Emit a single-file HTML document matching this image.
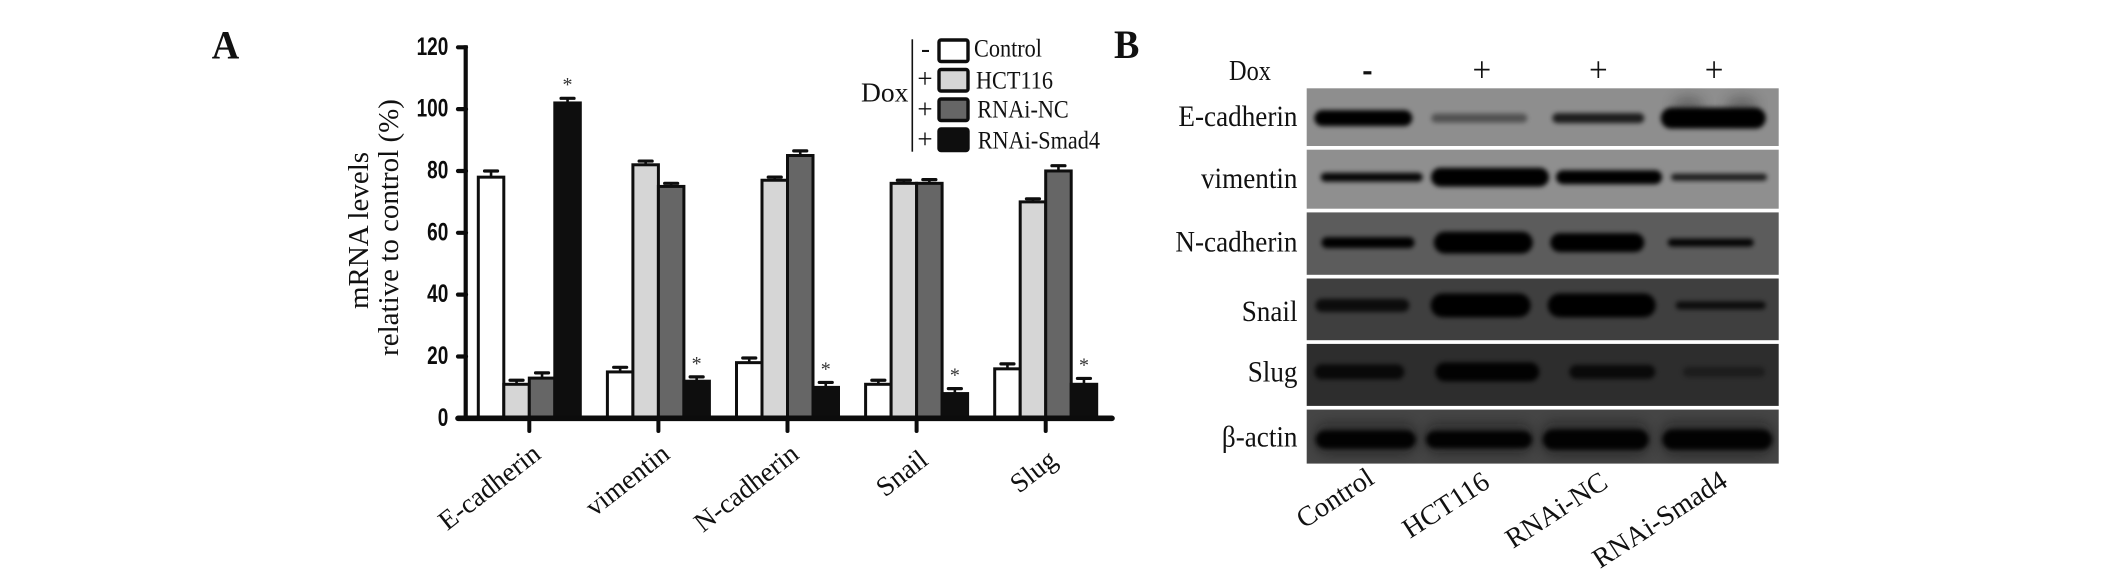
<!DOCTYPE html>
<html lang="en">
<head>
<meta charset="utf-8">
<title>mRNA levels and western blot</title>
<style>
html,body{margin:0;padding:0;background:#fff;width:2126px;height:581px;overflow:hidden}
svg{display:block;filter:blur(.35px)}
text{font-family:"Liberation Serif",serif;fill:#111}
.tick-text{font-family:"Liberation Sans",sans-serif;font-weight:700;fill:#0c0c0c}
</style>
</head>
<body>
<svg id="figure" xmlns="http://www.w3.org/2000/svg" width="2126" height="581" viewBox="0 0 2126 581">
  <defs>
    <filter id="band-blur" x="-10%" y="-60%" width="120%" height="220%"><feGaussianBlur stdDeviation="2.3"/></filter>
    <filter id="halo-blur" x="-30%" y="-120%" width="160%" height="340%"><feGaussianBlur stdDeviation="6"/></filter>
  </defs>
  <rect width="2126" height="581" fill="#fff"/>

  <text transform="translate(211.7,58.3) scale(.95,1)" font-size="40" font-weight="700">A</text>
  <text transform="translate(1114,58) scale(.95,1)" font-size="40" font-weight="700">B</text>

  <g font-size="29" text-anchor="middle">
    <text transform="translate(368,230.5) rotate(-90)">mRNA levels</text>
    <text transform="translate(398,227.5) rotate(-90)">relative to control (%)</text>
  </g>

  <g id="bar-layer"></g>
  <g id="axis-layer"></g>

  <g>
    <text x="861" y="101.7" font-size="27.5">Dox</text>
    <line x1="912.3" y1="39.3" x2="912.3" y2="151.7" stroke="#111" stroke-width="1.6"/>
    <text x="921" y="57.5" font-size="27">-</text>
    <text x="917.4" y="87.5" font-size="27">+</text>
    <text x="917.4" y="117.8" font-size="27">+</text>
    <text x="917.4" y="147.8" font-size="27">+</text>
    <rect x="939" y="40" width="29" height="21.5" rx="2" fill="#fff" stroke="#0e0e0e" stroke-width="3.4"/>
    <rect x="939" y="69.5" width="29" height="21.5" rx="2" fill="#d6d6d6" stroke="#0e0e0e" stroke-width="3.4"/>
    <rect x="939" y="99" width="29" height="21.5" rx="2" fill="#666" stroke="#0e0e0e" stroke-width="3.4"/>
    <rect x="939" y="129" width="29" height="21.5" rx="2" fill="#0e0e0e" stroke="#0e0e0e" stroke-width="3.4"/>
    <text transform="translate(974,56.7) scale(.89,1)" font-size="25">Control</text>
    <text transform="translate(976,88.3) scale(.89,1)" font-size="25">HCT116</text>
    <text transform="translate(977.3,117.3) scale(.89,1)" font-size="25">RNAi-NC</text>
    <text transform="translate(977.7,148.3) scale(.89,1)" font-size="25">RNAi-Smad4</text>
  </g>

  <g>
    <text transform="translate(1229,80) scale(.87,1)" font-size="28">Dox</text>
    <rect x="1363.4" y="71.2" width="8" height="3.2" fill="#111"/>
    <text transform="translate(1472.5,81.3) scale(.92,1)" font-size="36">+</text>
    <text transform="translate(1589,81.3) scale(.92,1)" font-size="36">+</text>
    <text transform="translate(1704.8,81.3) scale(.92,1)" font-size="36">+</text>
  </g>

  <g id="blot-layer"></g>
  <g id="blot-label-layer"></g>
  <g id="lane-label-layer"></g>
</svg>

<script>
// ---- Panel A data ----
const categories = ['E-cadherin', 'vimentin', 'N-cadherin', 'Snail', 'Slug'];
const seriesNames = ['control', 'hct116', 'rnai-nc', 'rnai-smad4'];
const controlValues = [78, 15, 18, 11, 16];
const hct116Values = [11, 82, 77, 76, 70];
const rnaiNcValues = [13, 75, 85, 76, 80];
const rnaiSmad4Values = [102, 12, 10, 8, 11];
const controlErrors = [2, 1.5, 1.5, 1.3, 1.6];
const hct116Errors = [1.3, 1.2, 1, 1, 1];
const rnaiNcErrors = [1.7, 1, 1.5, 1.2, 1.7];
const rnaiSmad4Errors = [1.5, 1.4, 1.6, 1.6, 1.9];
const yTickLabels = [0, 20, 40, 60, 80, 100, 120];

// ---- Panel B data (row x lane) ----
const blotRows = ['E-cadherin', 'vimentin', 'N-cadherin', 'Snail', 'Slug', 'β-actin'];
const blotLanes = ['Control', 'HCT116', 'RNAi-NC', 'RNAi-Smad4'];
const bandDensity = [
  [1, 0.42, 0.8, 1],
  [0.95, 1, 1, 0.8],
  [1, 1, 1, 0.95],
  [0.8, 1, 1, 0.8],
  [0.8, 0.95, 0.78, 0.36],
  [0.95, 0.95, 0.95, 0.95]
];
const bandThickness = [
  [16, 9, 10, 21],
  [9, 19, 14, 7],
  [11, 22, 19, 8],
  [13, 24, 24, 8],
  [15, 19, 14, 10],
  [18, 17, 20, 20]
];
const bandLength = [
  [98, 96, 92, 105],
  [102, 118, 106, 96],
  [93, 99, 94, 86],
  [94, 100, 108, 90],
  [90, 104, 86, 82],
  [100, 106, 106, 110]
];
const bandShift = [
  [-0.7, -2.7, -1.7, -4.7],
  [7.7, 8, 9, 1],
  [4, 1.3, -2.7, -7.3],
  [-1.7, -1.3, 1.7, 2.7],
  [-4.7, 5.3, 12.3, 6],
  [1.7, -3, -4.3, -0.7]
];
const rowShift = [1, -2, -1, -4, -3, 3];
const panelHeights = [57.7, 59, 62.4, 61.7, 62, 54];
const panelShades = ['#8e8e8e', '#8f8f8f', '#5c5c5c', '#3f3f3f', '#2d2d2d', '#454545'];
const rowBaselineGaps = [37.7, 38.4, 39.3, 42.4, 37.7, 36.7];

const NS = 'http://www.w3.org/2000/svg';
const barLayer = document.getElementById('bar-layer');
const axisLayer = document.getElementById('axis-layer');
const blotLayer = document.getElementById('blot-layer');
const blotLabelLayer = document.getElementById('blot-label-layer');
const laneLabelLayer = document.getElementById('lane-label-layer');

function make(tag, attrs, parent) {
  const node = document.createElementNS(NS, tag);
  for (const key in attrs) node.setAttribute(key, attrs[key]);
  parent.appendChild(node);
  return node;
}

const AXIS_ZERO = 418.3;
const PX_PER_UNIT = 371 / 120;
function yScale(v) { return AXIS_ZERO - v * PX_PER_UNIT; }
function groupCenter(i) { return 529.3 + 129.1 * i; }
function barLeft(i, s) { return groupCenter(i) - 51 + s * 25.5; }

const seriesValues = [controlValues, hct116Values, rnaiNcValues, rnaiSmad4Values];
const seriesErrors = [controlErrors, hct116Errors, rnaiNcErrors, rnaiSmad4Errors];
const seriesFill = ['#ffffff', '#d6d6d6', '#666666', '#0e0e0e'];

seriesValues.forEach(function (values, s) {
  values.forEach(function (value, i) {
    const cx = barLeft(i, s) + 12.75;
    const capY = yScale(value + seriesErrors[s][i]);
    const stem = make('line', {x1: cx, x2: cx, y1: yScale(value), y2: capY, stroke: '#0e0e0e', 'stroke-width': 2.6}, barLayer);
    
    
    const cap = make('line', {x1: cx - 6.5, x2: cx + 6.5, y1: capY, y2: capY, stroke: '#0e0e0e', 'stroke-width': 3.2, 'stroke-linecap': 'round'}, barLayer);
    
    
  });
});

seriesValues.forEach(function (values, s) {
  values.forEach(function (value, i) {
    const bar = make('rect', {
      x: barLeft(i, s), y: yScale(value), width: 25.5, height: AXIS_ZERO - yScale(value),
      fill: seriesFill[s], stroke: '#0e0e0e', 'stroke-width': 3
    }, barLayer);
    
    
  });
});

rnaiSmad4Values.forEach(function (value, i) {
  const star = make('text', {
    x: barLeft(i, 3) + 12.75,
    y: yScale(value + rnaiSmad4Errors[i]) - 16.5 + 9.4,
    'font-size': 20, 'text-anchor': 'middle', style: 'fill:#333'
  }, barLayer);
  star.textContent = '*';
  
  
});

const yAxis = make('line', {x1: 465.7, x2: 465.7, y1: yScale(120) - 2, y2: AXIS_ZERO, stroke: '#0c0c0c', 'stroke-width': 4.2}, axisLayer);


const xAxis = make('line', {x1: 458, x2: 1112, y1: AXIS_ZERO, y2: AXIS_ZERO, stroke: '#0c0c0c', 'stroke-width': 5.6, 'stroke-linecap': 'round'}, axisLayer);



yTickLabels.forEach(function (t) {
  const tick = make('line', {x1: 458, x2: 466, y1: yScale(t), y2: yScale(t), stroke: '#0c0c0c', 'stroke-width': 4.2, 'stroke-linecap': 'round'}, axisLayer);
  
  
  const label = make('text', {
    transform: 'translate(448.3,' + (yScale(t) + 7.6) + ') scale(.76,1)',
    'text-anchor': 'end', 'font-size': 25, class: 'tick-text'
  }, axisLayer);
  label.textContent = t;
  
  
});

categories.forEach(function (name, i) {
  const tick = make('line', {x1: groupCenter(i), x2: groupCenter(i), y1: AXIS_ZERO, y2: 431, stroke: '#0c0c0c', 'stroke-width': 4, 'stroke-linecap': 'round'}, axisLayer);
  
  
  const label = make('text', {
    transform: 'translate(' + (groupCenter(i) + 13) + ',' + (name === 'Snail' || name === 'Slug' ? 463 : 457) + ') rotate(-38)',
    'text-anchor': 'end', 'font-size': 27.5
  }, axisLayer);
  label.textContent = name;
  
  
});

// ---- Panel B ----
function laneCenter(j) { return 1364 + 118 * j; }
const BLOT_LEFT = 1306.7;
const BLOT_WIDTH = 472;
let panelTop = 88.3;

blotRows.forEach(function (rowName, r) {
  const h = panelHeights[r];
  const slug = rowName === 'β-actin' ? 'beta-actin' : rowName.toLowerCase();
  const panel = make('g', {}, blotLayer);
  
  

  const clip = make('clipPath', {id: 'clip-' + r}, panel);
  make('rect', {x: BLOT_LEFT, y: panelTop, width: BLOT_WIDTH, height: h}, clip);

  const bg = make('rect', {x: BLOT_LEFT, y: panelTop, width: BLOT_WIDTH, height: h, fill: panelShades[r]}, panel);
  
  

  const clipped = make('g', {'clip-path': 'url(#clip-' + r + ')'}, panel);
  const bandY = panelTop + h / 2 + rowShift[r];

  if (r === 0) {
    [1688, 1742].forEach(function (blobX) {
      const blob = make('ellipse', {cx: blobX, cy: bandY - 12, rx: 16, ry: 10, fill: '#222', opacity: .35, filter: 'url(#halo-blur)'}, clipped);
      
      
    });
  }

  bandDensity[r].forEach(function (density, j) {
    const cx = laneCenter(j) + bandShift[r][j];
    const len = bandLength[r][j];
    const th = bandThickness[r][j];
    if (r === 5) {
      const halo = make('rect', {x: cx - len / 2, y: bandY - th / 2 - 7, width: len, height: th + 12, rx: 12, fill: '#111', opacity: .45, filter: 'url(#halo-blur)'}, clipped);
      
      
    }
    const band = make('rect', {
      x: cx - len / 2, y: bandY - th / 2, width: len, height: th, rx: th / 2,
      fill: '#060606', opacity: density, filter: 'url(#band-blur)'
    }, clipped);
    
    
  });

  const label = make('text', {
    transform: 'translate(1297.5,' + (panelTop + rowBaselineGaps[r]) + ') scale(.905,1)',
    'text-anchor': 'end', 'font-size': 30
  }, blotLabelLayer);
  label.textContent = rowName;
  
  

  panelTop += h + 3.7;
});

blotLanes.forEach(function (lane, j) {
  const drop = [529, 539, 549, 569][j];
  const startX = [1304, 1410, 1513, 1600][j];
  const label = make('text', {
    transform: 'translate(' + startX + ',' + drop + ') rotate(-33)',
    'font-size': 28
  }, laneLabelLayer);
  label.textContent = lane;
  
  
});
</script>
</body>
</html>
